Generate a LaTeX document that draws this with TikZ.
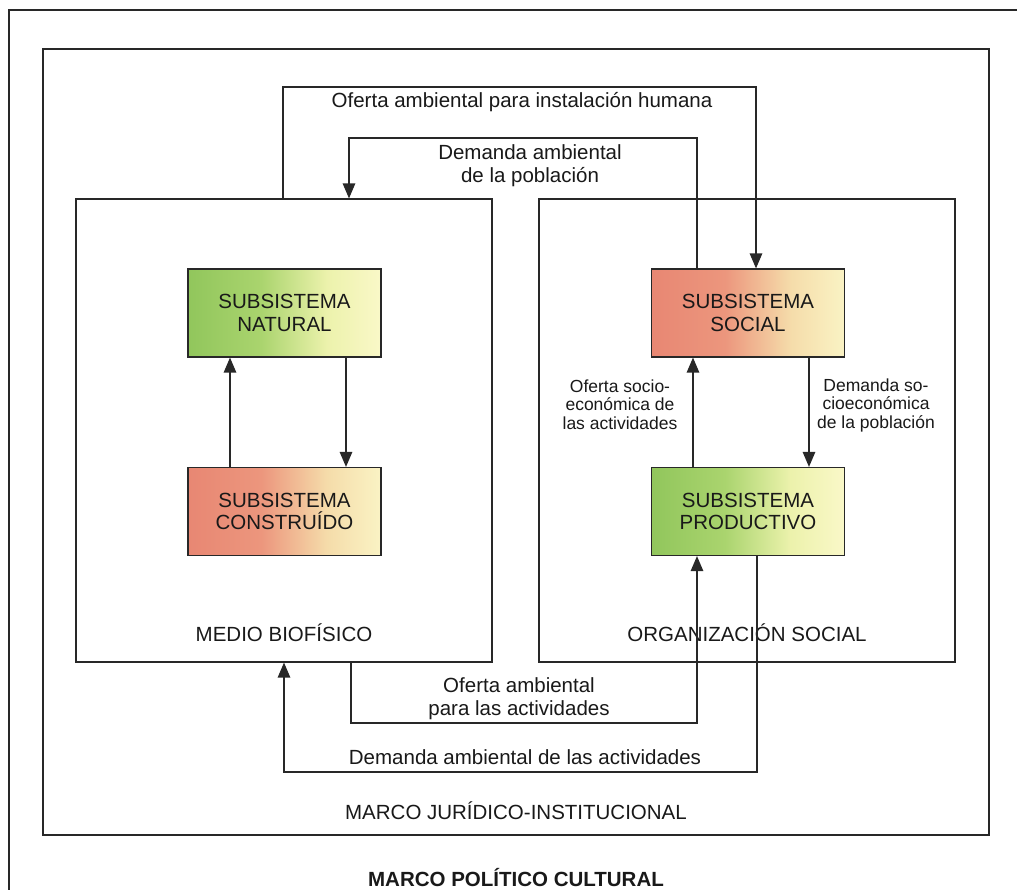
\documentclass[tikz,border=0pt]{standalone}
\usepackage{fontspec}
\setmainfont{Liberation Sans}
\usetikzlibrary{arrows.meta}
\definecolor{gA}{RGB}{145,198,92}
\definecolor{gB}{RGB}{170,212,110}
\definecolor{gC}{RGB}{236,242,172}
\definecolor{gD}{RGB}{250,248,200}
\definecolor{sA}{RGB}{232,135,115}
\definecolor{sB}{RGB}{236,150,125}
\definecolor{sC}{RGB}{245,220,170}
\definecolor{sD}{RGB}{250,243,196}
\definecolor{ink}{RGB}{40,40,40}
\pgfdeclarehorizontalshading{greensh}{100bp}{color(0bp)=(gA); color(25bp)=(gA); color(44bp)=(gB); color(61bp)=(gC); color(75bp)=(gD); color(100bp)=(gD)}
\pgfdeclarehorizontalshading{redsh}{100bp}{color(0bp)=(sA); color(25bp)=(sA); color(44bp)=(sB); color(61bp)=(sC); color(75bp)=(sD); color(100bp)=(sD)}
\newcommand\mainfs{\fontsize{20.5}{22.7}\selectfont}
\newcommand\smallfs{\fontsize{17.5}{18.5}\selectfont}
\begin{document}
\begin{tikzpicture}[x=1pt,y=-1pt,
  frame/.style={draw=ink, line width=1.2pt, inner sep=0pt, minimum width=416pt, minimum height=463pt},
  sub/.style={draw=ink, line width=1.2pt, inner sep=0pt, minimum width=193pt, minimum height=88pt, align=center, font=\mainfs, text=black!90},
  greenbox/.style={shade, shading=greensh},
  redbox/.style={shade, shading=redsh},
  arr/.style={draw=ink, line width=1.3pt, -{Triangle[length=15pt,width=12.5pt]}},
  lbl/.style={font=\mainfs, inner sep=0pt, text=black!90},
  lbl2/.style={font=\mainfs, inner sep=0pt, align=center, text=black!90},
  small/.style={font=\smallfs, inner sep=0pt, align=center, text=black!90}]
\useasboundingbox (0,0) rectangle (1017,890);
\fill[white] (0,0) rectangle (1017,890);
\clip (0,0) rectangle (1017,890);
% outer frame (cut off at right and bottom)
\draw[ink, line width=1.8pt] (9,905) -- (9,10) -- (1035,10);
% inner frame
\node[draw=ink, line width=1.8pt, inner sep=0pt, minimum width=946pt, minimum height=786pt] (inner) at (516,442) {};
% environment boxes
\node[frame] (medio) at (284,430.5) {};
\node[frame] (org) at (747,430.5) {};
% subsystems
\node[sub, greenbox] (natural) at (284.5,313) {SUBSISTEMA\\NATURAL};
\node[sub, redbox] (construido) at (284.5,511.5) {SUBSISTEMA\\CONSTRUÍDO};
\node[sub, redbox] (social) at (748,313) {SUBSISTEMA\\SOCIAL};
\node[sub, greenbox] (productivo) at (748,511.5) {SUBSISTEMA\\PRODUCTIVO};
% frame labels
\node[lbl, anchor=base] (lmedio) at (284,641) {MEDIO BIOFÍSICO};
\node[lbl, anchor=base] (lorg) at (747,641) {ORGANIZACIÓN SOCIAL};
\node[lbl, anchor=base] (ljur) at (516,819) {MARCO JURÍDICO-INSTITUCIONAL};
\node[lbl, anchor=base, font=\mainfs\bfseries] (lpol) at (516,886) {MARCO POLÍTICO CULTURAL};
% inner arrows
\draw[arr] ([xshift=-54.5pt]construido.north) -- ([xshift=-54.5pt]natural.south);
\draw[arr] ([xshift=61.5pt]natural.south) -- ([xshift=61.5pt]construido.north);
\draw[arr] ([xshift=-55pt]productivo.north) -- ([xshift=-55pt]social.south);
\draw[arr] ([xshift=61pt]social.south) -- ([xshift=61pt]productivo.north);
% outer connectors
\coordinate (oiL) at (283,87); \coordinate (oiR) at (756,87);
\draw[arr] (medio.north -| oiL) -- (oiL) -- (oiR) -- (social.north -| oiR);
\coordinate (dpR) at (697,138); \coordinate (dpL) at (349,138);
\draw[arr] (social.north -| dpR) -- (dpR) -- (dpL) -- (medio.north -| dpL);
\coordinate (oaL) at (351,723); \coordinate (oaR) at (697,723);
\draw[arr] (medio.south -| oaL) -- (oaL) -- (oaR) -- (productivo.south -| oaR);
\coordinate (daR) at (757,772); \coordinate (daL) at (284,772);
\draw[arr] (productivo.south -| daR) -- (daR) -- (daL) -- (medio.south -| daL);
% connector labels
\node[lbl, anchor=base] (toi) at (522,108) {Oferta ambiental para instalación humana};
\node[lbl2, anchor=north] (tdp) at (530,144.3) {Demanda ambiental\\de la población};
\node[lbl2, anchor=north] (toa) at (519,677.3) {Oferta ambiental\\para las actividades};
\node[lbl, anchor=base] (tda) at (525,764) {Demanda ambiental de las actividades};
\node[small, anchor=north] (tos) at (620,379.5) {Oferta socio-\\económica de\\las actividades};
\node[small, anchor=north] (tds) at (876,378.5) {Demanda so-\\cioeconómica\\de la población};
\end{tikzpicture}
\end{document}
